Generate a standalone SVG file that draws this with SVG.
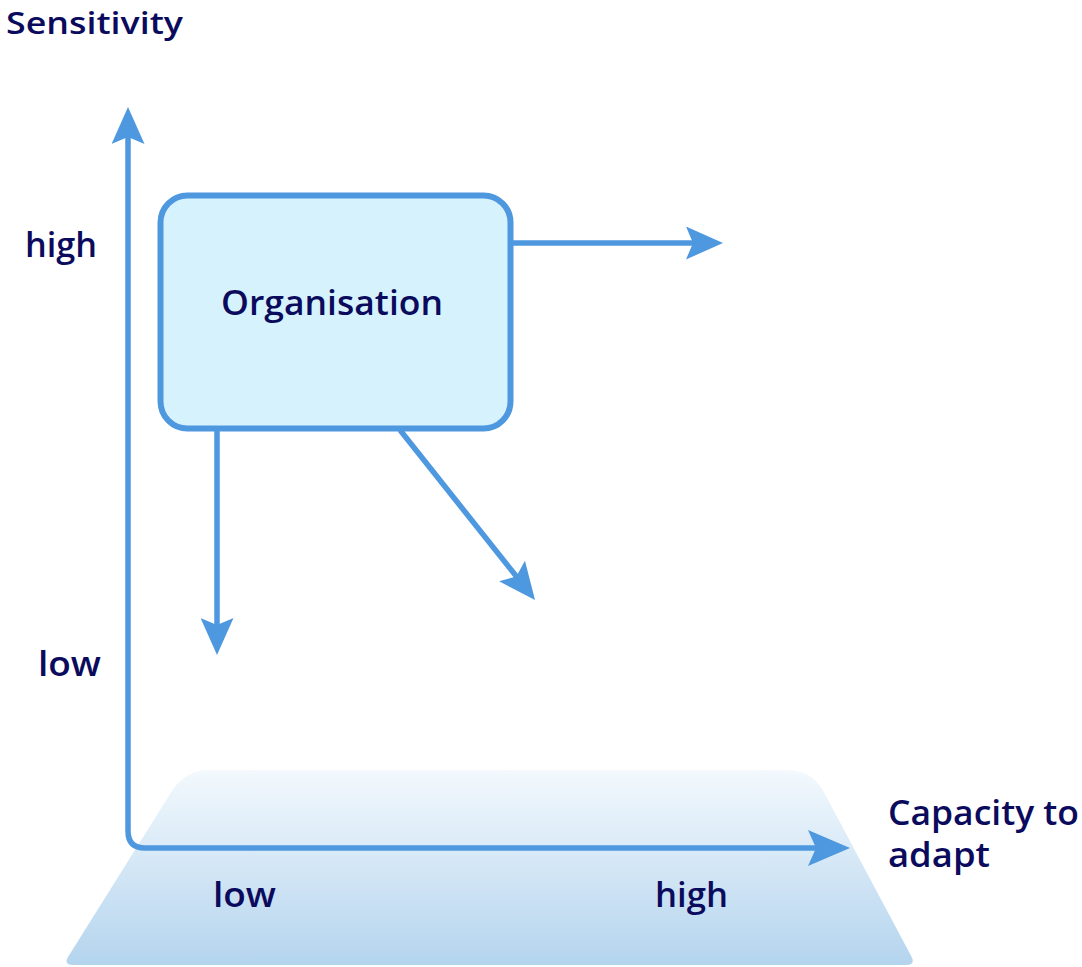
<svg xmlns="http://www.w3.org/2000/svg" width="1082" height="967" viewBox="0 0 1082 967">
<style>
.lbl{font-family:"Open Sans","Liberation Sans",sans-serif;font-weight:600;font-size:34px;fill:#0b0b5e}
.ln{fill:none;stroke:#4e98df;stroke-width:5.5}
</style>
<defs>
<linearGradient id="base" x1="0" y1="0" x2="0" y2="1">
<stop offset="0" stop-color="#f3f9fd"/>
<stop offset="1" stop-color="#b4d4ee"/>
</linearGradient>
<marker id="ah" viewBox="0 0 37 33" markerWidth="37" markerHeight="33" refX="17" refY="16.5" markerUnits="userSpaceOnUse" orient="auto">
<path d="M0,0 L37,16.5 L0,33 L7,16.5 Z" fill="#4e98df"/>
</marker>
<marker id="ahs" viewBox="0 0 37 33" markerWidth="37" markerHeight="33" refX="17" refY="16.5" markerUnits="userSpaceOnUse" orient="auto-start-reverse">
<path d="M0,0 L37,16.5 L0,33 L7,16.5 Z" fill="#4e98df"/>
</marker>
<marker id="ahb" viewBox="0 0 42 36" markerWidth="42" markerHeight="36" refX="22" refY="18" markerUnits="userSpaceOnUse" orient="auto">
<path d="M0,0 L42,18 L0,36 L8,18 Z" fill="#4e98df"/>
</marker>
</defs>
<g id="base-plane">
<path d="M210,770 H787 Q812,770 823.8,792 L911.3,956.2 Q916,965 906,965 H73 Q63,965 68.3,956.5 L171.8,791.2 Q185,770 210,770 Z" fill="url(#base)"/>
</g>
<g id="connectors">
<path class="ln" d="M128,127 V831 Q128,848 145,848 H830" marker-start="url(#ahs)" marker-end="url(#ahb)"/>
<path class="ln" d="M511,243 H703" marker-end="url(#ah)"/>
<path class="ln" d="M217,430 V635" marker-end="url(#ah)"/>
<path class="ln" d="M400,430 L522.6,584.3" marker-end="url(#ah)"/>
</g>
<g id="organisation">
<rect x="160.5" y="195.5" width="350" height="233" rx="27" fill="#d6f2fd" stroke="#4e98df" stroke-width="6"/>
<text class="lbl" x="221" y="315" textLength="222" lengthAdjust="spacingAndGlyphs">Organisation</text>
</g>
<g id="labels">
<text class="lbl" x="6" y="34" font-size="31" style="font-size:31px" textLength="177" lengthAdjust="spacingAndGlyphs">Sensitivity</text>
<text class="lbl" x="25" y="257" textLength="72" lengthAdjust="spacingAndGlyphs">high</text>
<text class="lbl" x="38" y="676" textLength="63" lengthAdjust="spacingAndGlyphs">low</text>
<text class="lbl" x="213" y="907" textLength="63" lengthAdjust="spacingAndGlyphs">low</text>
<text class="lbl" x="655" y="907" textLength="73" lengthAdjust="spacingAndGlyphs">high</text>
<text class="lbl" x="888" y="825" textLength="191" lengthAdjust="spacingAndGlyphs">Capacity to</text>
<text class="lbl" x="888" y="867" textLength="102" lengthAdjust="spacingAndGlyphs">adapt</text>
</g>
</svg>
